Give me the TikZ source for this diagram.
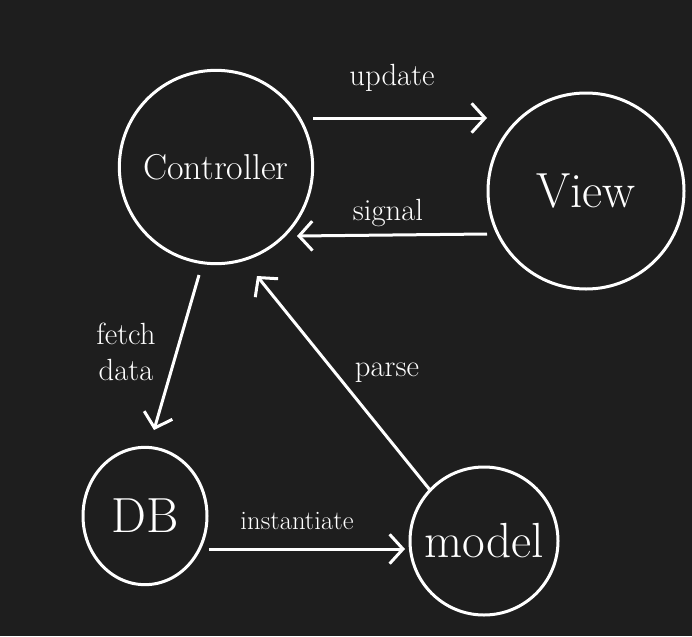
\documentclass[tikz,border=0pt]{standalone}
\usetikzlibrary{arrows.meta,shapes.geometric}
\definecolor{bgdark}{RGB}{30,30,30}
\tikzset{every picture/.style={line width=2.25pt}}

\begin{document}
\begin{tikzpicture}[x=0.75pt,y=0.75pt,yscale=-1,xscale=1,
	part/.style={draw=white, text=white, inner sep=0pt, font=\fontsize{37}{40}\selectfont},
	flow/.style={draw=white, -{Straight Barb[length=10pt,width=22pt,line width=2.25pt]}},
	tag/.style={text=white, font=\fontsize{23}{27}\selectfont, align=center}]
	%set diagram size to the whole 692x636 canvas
	\fill [bgdark] (0,0) rectangle (692,636);
	\useasboundingbox (0,0) rectangle (692,636);

	%Shape: Circle [id:ctrl] 
	\node [part, circle, minimum size=145pt, font=\fontsize{27}{30}\selectfont] (ctrl) at (216,167) {Controller};
	%Shape: Circle [id:view] 
	\node [part, circle, minimum size=147pt] (view) at (586,191) {View};
	%Shape: Ellipse [id:db] 
	\node [part, ellipse, minimum width=93pt, minimum height=103pt] (db) at (145,516) {DB};
	%Shape: Circle [id:model] 
	\node [part, circle, minimum size=111pt] (model) at (484,541) {model};

	%Arrow ends
	\coordinate (upd-s) at (313,118);
	\coordinate (upd-e) at (487,118);
	\coordinate (sig-s) at (487,234);
	\coordinate (sig-e) at (297,236);
	\coordinate (fet-s) at (199,275);
	\coordinate (fet-e) at (154,430);
	\coordinate (par-s) at (430,490);
	\coordinate (par-e) at (257,276);
	\coordinate (ins-s) at (209,549);
	\coordinate (ins-e) at (405,549);

	%Straight Lines
	\draw [flow] (upd-s) -- (upd-e);
	\draw [flow] (sig-s) -- (sig-e);
	\draw [flow] (fet-s) -- (fet-e);
	\draw [flow] (par-s) -- (par-e);
	\draw [flow] (ins-s) -- (ins-e);

	% Text Node
	\node [tag] (update) at (392,78) {update};
	% Text Node
	\node [tag] (signal) at (388,213) {signal};
	% Text Node
	\node [tag] (fetch) at (126,352) {fetch\\data};
	% Text Node
	\node [tag] (parse) at (387,373) {parse};
	% Text Node
	\node [tag, font=\fontsize{20}{24}\selectfont] (inst) at (297,521) {instantiate};
\end{tikzpicture}
\end{document}
